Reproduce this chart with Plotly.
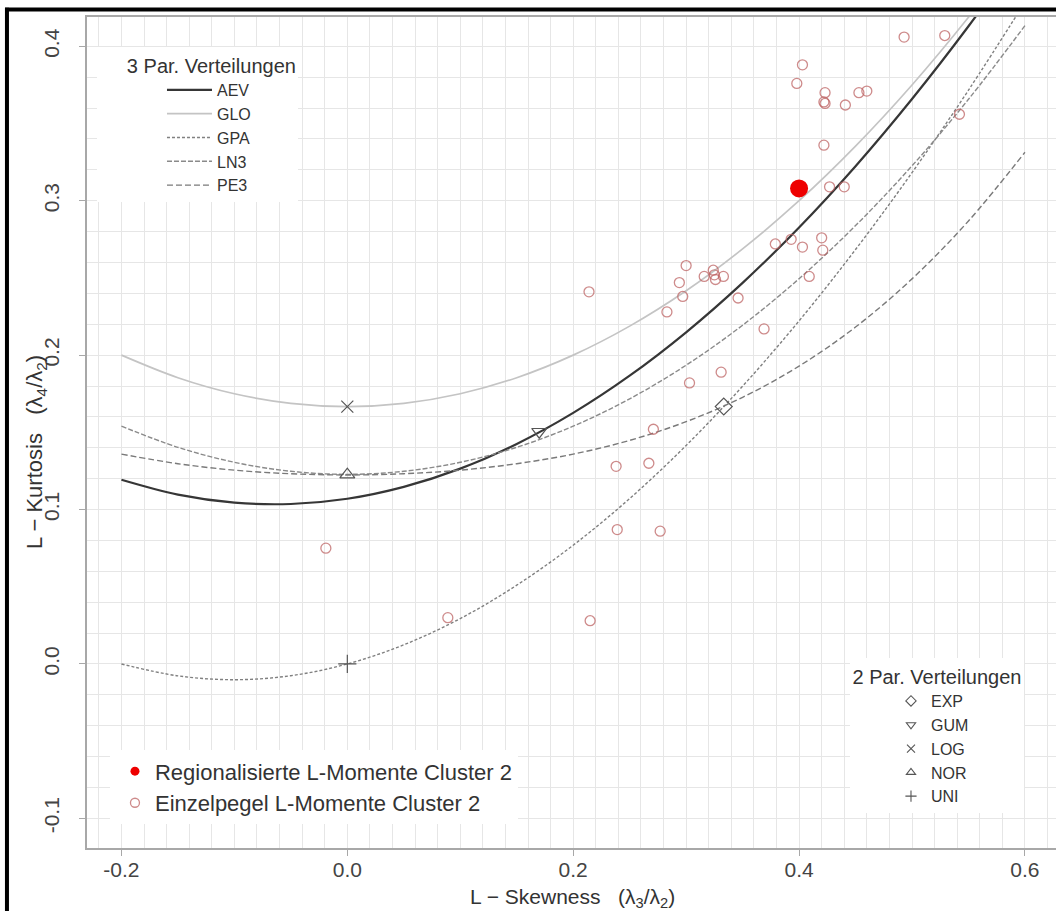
import plotly.graph_objects as go

# --- theoretical curves (L-skewness grid and L-kurtosis values) ---
tau3_grid = [-0.20, -0.15, -0.10, -0.05, 0.00, 0.05, 0.10, 0.15, 0.20, 0.25,
             0.30, 0.35, 0.40, 0.45, 0.50, 0.55, 0.60]
aev_t4 = [0.1193, 0.1097, 0.1045, 0.1036, 0.1070, 0.1147, 0.1265, 0.1425, 0.1626,
          0.1867, 0.2148, 0.2468, 0.2827, 0.3224, 0.3659, 0.4130, 0.4638]
glo_t4 = [0.2000, 0.1854, 0.1750, 0.1688, 0.1667, 0.1688, 0.1750, 0.1854, 0.2000,
          0.2188, 0.2417, 0.2688, 0.3000, 0.3354, 0.3750, 0.4188, 0.4667]
gpa_t4 = [0.0000, -0.0077, -0.0102, -0.0076, 0.0000, 0.0124, 0.0294, 0.0510, 0.0769,
          0.1071, 0.1415, 0.1799, 0.2222, 0.2684, 0.3182, 0.3716, 0.4286]
ln3_t4 = [0.1540, 0.1403, 0.1306, 0.1248, 0.1228, 0.1248, 0.1306, 0.1403, 0.1540,
          0.1717, 0.1935, 0.2194, 0.2495, 0.2839, 0.3226, 0.3657, 0.4134]
pe3_t4 = [0.1359, 0.1297, 0.1255, 0.1232, 0.1224, 0.1232, 0.1255, 0.1297, 0.1359,
          0.1448, 0.1569, 0.1727, 0.1929, 0.2182, 0.2494, 0.2869, 0.3314]

curve_names = ["AEV", "GLO", "GPA", "LN3", "PE3"]

# --- 2-parameter distributions ---
two_par_names = ["EXP", "GUM", "LOG", "NOR", "UNI"]
two_par_t3 = [0.3333, 0.1699, 0.0, 0.0, 0.0]
two_par_t4 = [0.1667, 0.1504, 0.1667, 0.1226, 0.0]

# --- single gauges (Einzelpegel) ---
gauge_t3 = [-0.019, 0.089, 0.215, 0.214, 0.238, 0.239, 0.267, 0.271, 0.277, 0.283,
            0.294, 0.297, 0.300, 0.303, 0.316, 0.324, 0.325, 0.326, 0.333, 0.331,
            0.346, 0.369, 0.379, 0.393, 0.403, 0.409, 0.420, 0.421, 0.422, 0.427,
            0.440, 0.398, 0.403, 0.423, 0.422, 0.423, 0.441, 0.453, 0.460, 0.493,
            0.529, 0.542]
gauge_t4 = [0.075, 0.030, 0.028, 0.241, 0.128, 0.087, 0.130, 0.152, 0.086, 0.228,
            0.247, 0.238, 0.258, 0.182, 0.251, 0.255, 0.252, 0.249, 0.251, 0.189,
            0.237, 0.217, 0.272, 0.275, 0.270, 0.251, 0.276, 0.268, 0.336, 0.309,
            0.309, 0.376, 0.388, 0.370, 0.364, 0.363, 0.362, 0.370, 0.371, 0.406,
            0.407, 0.356]

# --- regional L-moments ---
regional_t3 = [0.400]
regional_t4 = [0.308]

x_tickvals = [-0.2, 0.0, 0.2, 0.4, 0.6]
x_ticktext = ["-0.2", "0.0", "0.2", "0.4", "0.6"]
y_tickvals = [-0.1, 0.0, 0.1, 0.2, 0.3, 0.4]
y_ticktext = ["-0.1", "0.0", "0.1", "0.2", "0.3", "0.4"]

FONT = "Liberation Sans, Arial, Helvetica, sans-serif"

fig = go.Figure()

curve_vals = [aev_t4, glo_t4, gpa_t4, ln3_t4, pe3_t4]
curve_styles = [
    dict(color="#363636", width=2.2, dash="solid"),
    dict(color="#c4c4c4", width=1.7, dash="solid"),
    dict(color="#808080", width=1.4, dash="3px,2px"),
    dict(color="#8a8a8a", width=1.4, dash="5px,2px"),
    dict(color="#7a7a7a", width=1.4, dash="6px,3px"),
]
for name, vals, st in zip(curve_names, curve_vals, curve_styles):
    fig.add_trace(go.Scatter(
        x=tau3_grid, y=vals, mode="lines", name=name,
        line=dict(color=st["color"], width=st["width"], dash=st["dash"], shape="spline"),
        legend="legend", showlegend=True, hoverinfo="skip"))

# single gauges
gauge_color = "rgba(190,100,100,0.75)"
fig.add_trace(go.Scatter(
    x=gauge_t3, y=gauge_t4, mode="markers", name="Einzelpegel L-Momente Cluster 2",
    marker=dict(symbol="circle-open", size=10, color=gauge_color, line=dict(width=1.3)),
    showlegend=False))

# regional
fig.add_trace(go.Scatter(
    x=regional_t3, y=regional_t4, mode="markers", name="Regionalisierte L-Momente Cluster 2",
    marker=dict(symbol="circle", size=18, color="#ee0000"),
    showlegend=False))

# 2-parameter points
two_par_symbols = ["diamond-open", "triangle-down-open", "x-thin-open",
                   "triangle-up-open", "cross-thin-open"]
two_par_sizes = [13, 13, 12, 13, 13]
for i, name in enumerate(two_par_names):
    fig.add_trace(go.Scatter(
        x=[two_par_t3[i]], y=[two_par_t4[i]], mode="markers", name=name,
        marker=dict(symbol=two_par_symbols[i], size=two_par_sizes[i], color="#555555",
                    line=dict(width=1.2, color="#555555")),
        showlegend=False))
    # legend entry
    fig.add_trace(go.Scatter(
        x=[None], y=[None], mode="markers", name=name,
        marker=dict(symbol=two_par_symbols[i], size=8, color="#555555",
                    line=dict(width=1.1, color="#555555")),
        legend="legend2", showlegend=True))

# legend entries for legend 3
fig.add_trace(go.Scatter(
    x=[None], y=[None], mode="markers", name="Regionalisierte L-Momente Cluster 2",
    marker=dict(symbol="circle", size=9, color="#ee0000"),
    legend="legend3", showlegend=True))
fig.add_trace(go.Scatter(
    x=[None], y=[None], mode="markers", name="Einzelpegel L-Momente Cluster 2",
    marker=dict(symbol="circle-open", size=9, color=gauge_color, line=dict(width=1.3)),
    legend="legend3", showlegend=True))

grid_col = "#e6e6e6"
axis_col = "#a8a8a8"

fig.update_layout(
    width=1056, height=911,
    margin=dict(l=87, r=0, t=17, b=63, pad=0),
    paper_bgcolor="white", plot_bgcolor="white",
    font=dict(family=FONT, color="#333333"),
    xaxis=dict(
        range=[-0.2305, 0.6275], tickmode="array", tickvals=x_tickvals, ticktext=x_ticktext,
        ticks="outside", ticklen=6, tickcolor=axis_col, tickwidth=1,
        tickfont=dict(size=21, color="#444444"), ticklabelstandoff=-4,
        showline=True, linecolor=axis_col, linewidth=1.5, mirror=True,
        showgrid=True, gridcolor=grid_col, gridwidth=1, zeroline=False,
        minor=dict(tickmode="linear", tick0=0, dtick=0.02, showgrid=True,
                   gridcolor=grid_col, gridwidth=1, ticks=""),
        automargin=False,
    ),
    yaxis=dict(
        range=[-0.1192, 0.4190], tickmode="array", tickvals=y_tickvals, ticktext=y_ticktext,
        ticks="outside", ticklen=6, tickcolor=axis_col, tickwidth=1, tickangle=-90,
        tickfont=dict(size=21, color="#444444"), ticklabelstandoff=12,
        showline=True, linecolor=axis_col, linewidth=1.5, mirror=False,
        showgrid=True, gridcolor=grid_col, gridwidth=1, zeroline=False,
        minor=dict(tickmode="linear", tick0=0, dtick=0.02, showgrid=True,
                   gridcolor=grid_col, gridwidth=1, ticks=""),
        automargin=False,
    ),
    annotations=[
        dict(text="L − Skewness&nbsp;&nbsp;&nbsp;(λ<sub>3</sub>/λ<sub>2</sub>)",
             xref="paper", yref="paper", x=0.5015, y=-0.0602,
             xanchor="center", yanchor="middle", showarrow=False,
             font=dict(size=21, color="#333333")),
        dict(text="L − Kurtosis&nbsp;&nbsp;&nbsp;(λ<sub>4</sub>/λ<sub>2</sub>)",
             xref="paper", yref="paper", x=-0.0526, y=0.4765, textangle=-90,
             xanchor="center", yanchor="middle", showarrow=False,
             font=dict(size=22, color="#333333")),
    ],
    legend=dict(
        x=0.0103, y=0.9639, xanchor="left", yanchor="top",
        bgcolor="white", borderwidth=0, font=dict(size=16, color="#333333"),
        title=dict(text="&nbsp;&nbsp;&nbsp;&nbsp;&nbsp;3 Par. Verteilungen", side="top center",
                   font=dict(size=20, color="#333333")),
        indentation=65, itemwidth=45, traceorder="normal",
    ),
    legend2=dict(
        x=0.7874, y=0.2286, xanchor="left", yanchor="top",
        bgcolor="white", borderwidth=0, font=dict(size=16, color="#333333"),
        title=dict(text="2 Par. Verteilungen", side="top center",
                   font=dict(size=20, color="#333333")),
        indentation=41, traceorder="normal",
    ),
    legend3=dict(
        x=0.0237, y=0.1175, xanchor="left", yanchor="top",
        bgcolor="white", borderwidth=0, font=dict(size=22, color="#333333"),
        traceorder="normal", indentation=5,
    ),
    shapes=[
        dict(type="line", xref="paper", yref="paper",
             x0=-0.0826, x1=-0.0826, y0=-0.2, y1=1.011,
             line=dict(color="black", width=4)),
        dict(type="line", xref="paper", yref="paper",
             x0=-0.0846, x1=1.05, y0=1.009, y1=1.009,
             line=dict(color="black", width=4)),
    ],
)

fig.write_html("out.html", config={"displayModeBar": False},
               post_script="document.body.style.margin='0px';")
